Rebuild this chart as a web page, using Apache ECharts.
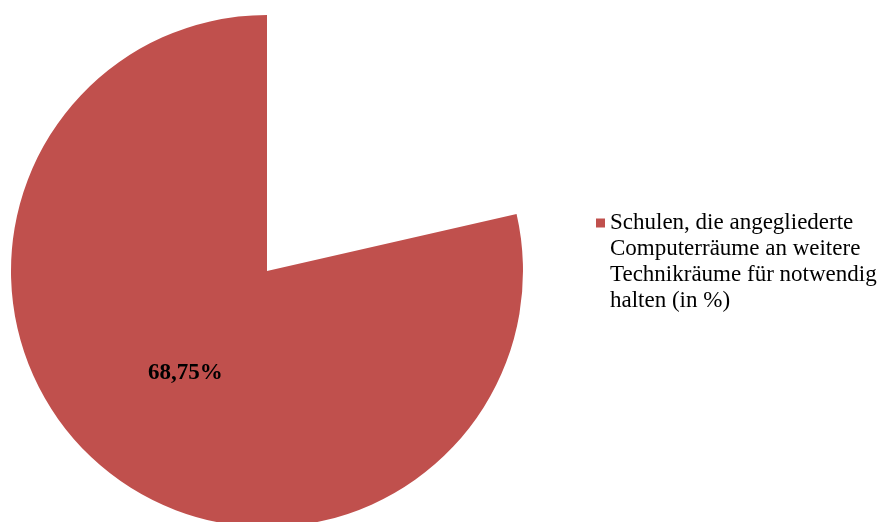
<!DOCTYPE html>
<html>
<head>
<meta charset="utf-8">
<script src="https://cdn.jsdelivr.net/npm/echarts@6/dist/echarts.min.js"></script>
<style>
  html, body { margin: 0; padding: 0; background: #ffffff; }
  #chart { width: 888px; height: 522px; }
</style>
</head>
<body>
<div id="chart"></div>
<script>
// Slice names and values (percent of all surveyed schools)
const sliceNames = [
  'Übrige Schulen',
  'Schulen, die angegliederte\nComputerräume an weitere\nTechnikräume für notwendig\nhalten (in %)'
];
const sliceValues = [18.75, 68.75];
const sliceColors = ['#ffffff', '#C0504D'];

const serif = '"Liberation Serif", "Times New Roman", serif';

const chart = echarts.init(document.getElementById('chart'), null, { renderer: 'canvas' });

const pieData = sliceNames.map((name, i) => ({
  name: name,
  value: sliceValues[i],
  itemStyle: { color: sliceColors[i] },
  label: { show: i === 1 }
}));

chart.setOption({
  animation: false,
  backgroundColor: '#ffffff',
  legend: {
    data: [sliceNames[1]],
    orient: 'vertical',
    left: 596,
    top: 132,
    padding: 0,
    icon: 'rect',
    itemWidth: 9,
    itemHeight: 9,
    itemGap: 0,
    selectedMode: false,
    // three blank lines above keep the marker level with the first text line
    formatter: (name) => '\n\n\n' + name,
    textStyle: {
      fontFamily: serif,
      fontSize: 23,
      lineHeight: 26,
      color: '#000000'
    }
  },
  series: [{
    type: 'pie',
    center: [267, 271],
    radius: [0, 256],
    startAngle: 90,
    clockwise: true,
    avoidLabelOverlap: false,
    emphasis: { disabled: true },
    label: {
      position: 'inside',
      formatter: (p) => p.value.toFixed(2).replace('.', ',') + '%',
      fontFamily: serif,
      fontWeight: 'bold',
      fontSize: 23,
      color: '#000000'
    },
    labelLine: { show: false },
    data: pieData
  }]
});
</script>
</body>
</html>
